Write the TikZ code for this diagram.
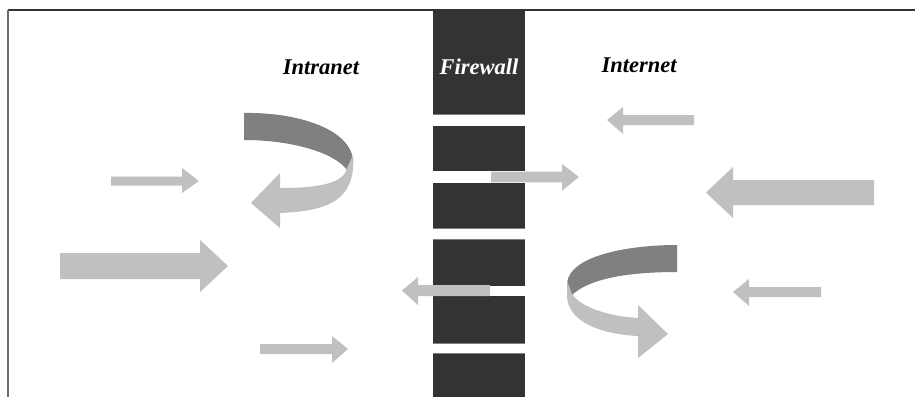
\documentclass[tikz,border=0pt]{standalone}
\usepackage{fontspec}
\setmainfont{Liberation Serif}
\definecolor{blockc}{HTML}{333333}
\definecolor{edgec}{HTML}{808080}
\definecolor{arrc}{HTML}{C0C0C0}
\definecolor{ribdark}{HTML}{808080}
\definecolor{framel}{HTML}{6E6E6E}
\begin{document}
\begin{tikzpicture}[x=1pt,y=-1pt,
  fwblock/.style={fill=blockc,draw=none},
  blockedge/.style={draw=edgec,line width=1pt},
  flowarrow/.style={fill=arrc,draw=none},
  ribbonback/.style={fill=ribdark,draw=none},
  ribbonfront/.style={fill=arrc,draw=none},
  label/.style={font=\fontsize{22.5}{22.5}\selectfont\bfseries\itshape,inner sep=0pt,anchor=base}]
\useasboundingbox (0,0) rectangle (915,397);
\fill[white] (0,0) rectangle (915,397);
% frame
\draw[draw=blockc,line width=1.5pt] (8,10) -- (915,10);
\draw[draw=framel,line width=2pt] (8,10) -- (8,397);
% firewall blocks
\fill[fwblock] (433,10) rectangle (525,114);
\fill[fwblock] (433,126) rectangle (525,171);
\fill[fwblock] (433,183) rectangle (525,228);
\fill[fwblock] (433,239) rectangle (525,286);
\fill[fwblock] (433,296) rectangle (525,343);
\fill[fwblock] (433,353) rectangle (525,397);
\draw[blockedge] (433,114) -- (525,114);
\draw[blockedge] (433,228) -- (525,228);
\draw[blockedge] (433,239.5) -- (525,239.5);
\draw[blockedge] (433,343) -- (525,343);
\draw[blockedge] (433,353.5) -- (525,353.5);
% labels
\node[label] (intranet) at (321,74) {Intranet};
\node[label,text=white] (firewall) at (479,74) {Firewall};
\node[label] (internet) at (639,72) {Internet};
% straight arrows
\fill[flowarrow] (491,171.7) -- (562,171.7) -- (562,164) -- (579,177) -- (562,190.7) -- (562,182.3) -- (491,182.3) -- cycle;
\fill[flowarrow] (490,285) -- (418,285) -- (418,277) -- (402,290.5) -- (418,305) -- (418,296) -- (490,296) -- cycle;
\fill[flowarrow] (111,176.7) -- (182,176.7) -- (182,168) -- (199,181) -- (182,193) -- (182,185.7) -- (111,185.7) -- cycle;
\fill[flowarrow] (60,253) -- (200,253) -- (200,240) -- (228,266) -- (200,292) -- (200,279) -- (60,279) -- cycle;
\fill[flowarrow] (260,344) -- (332,344) -- (332,336) -- (348,349) -- (332,363) -- (332,354) -- (260,354) -- cycle;
\fill[flowarrow] (694,115) -- (623,115) -- (623,107) -- (607,120) -- (623,134) -- (623,125) -- (694,125) -- cycle;
\fill[flowarrow] (874,180) -- (733,180) -- (733,167) -- (706,192.5) -- (733,218) -- (733,205) -- (874,205) -- cycle;
\fill[flowarrow] (821,287) -- (749,287) -- (749,279) -- (733,292) -- (749,306) -- (749,297) -- (821,297) -- cycle;
% left curved ribbon arrow
\fill[ribbonback] (244,113) .. controls (295,112) and (350,128) .. (353,160) -- (347,170) .. controls (334,152) and (290,140) .. (244,140) -- cycle;
\fill[ribbonfront] (353,155) .. controls (357,205) and (320,211) .. (280,213) -- (280,228) -- (251,203) -- (280,173) -- (280,188) .. controls (320,188) and (344,183) .. (347,168) -- cycle;
% right curved ribbon arrow
\fill[ribbonback] (677,245) .. controls (630,245) and (570,255) .. (567,283) -- (572,295) .. controls (590,278) and (630,272) .. (677,272) -- cycle;
\fill[ribbonfront] (567,281) -- (567,298) .. controls (570,322) and (600,334) .. (638,336) -- (638,358) -- (668,334) -- (638,305) -- (638,318) .. controls (605,316) and (580,306) .. (572,294) -- cycle;
\end{tikzpicture}
\end{document}
